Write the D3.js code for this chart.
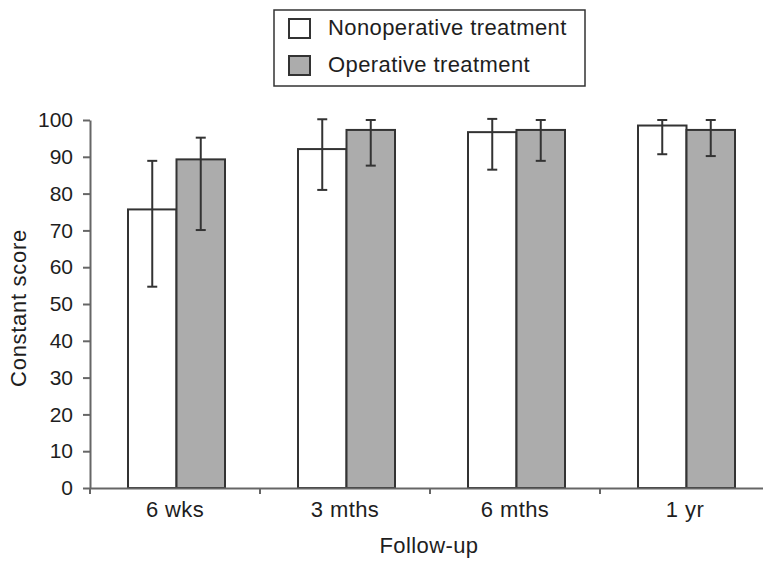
<!DOCTYPE html>
<html>
<head>
<meta charset="utf-8">
<script src="https://cdn.jsdelivr.net/npm/d3@7"></script>
<style>
  body { margin: 0; background: #fff; }
  svg { font-family: "Liberation Sans", Arial, sans-serif; }
</style>
</head>
<body>
<div id="chart"></div>
<script>
const categories = ["6 wks", "3 mths", "6 mths", "1 yr"];
const seriesNames = ["Nonoperative treatment", "Operative treatment"];
const nonopMean = [75.7, 92.1, 96.7, 98.5];
const nonopLow = [54.7, 81.0, 86.5, 90.7];
const nonopHigh = [88.9, 100.2, 100.3, 100];
const opMean = [89.3, 97.3, 97.3, 97.3];
const opLow = [70.1, 87.6, 88.9, 90.2];
const opHigh = [95.2, 100, 100, 100];
const yTicks = [0, 10, 20, 30, 40, 50, 60, 70, 80, 90, 100];

const width = 763, height = 561;
const fills = ["#ffffff", "#acacac"];
const textColor = "#1e1e1e";

const svg = d3.select("#chart").append("svg")
  .attr("width", width)
  .attr("height", height);

const x0 = d3.scaleBand().domain(categories).range([90, 770]).padding(0);
const x1 = d3.scaleBand().domain(seriesNames).range([38, 135]).padding(0);
const y = d3.scaleLinear().domain([0, 100]).range([488, 120]);

const rows = categories.map((c, i) => ({
  cat: c,
  vals: [
    { s: seriesNames[0], v: nonopMean[i], lo: nonopLow[i], hi: nonopHigh[i] },
    { s: seriesNames[1], v: opMean[i], lo: opLow[i], hi: opHigh[i] }
  ]
}));

// bars
const group = svg.selectAll(".grp")
  .data(rows)
  .enter().append("g")
  .attr("class", "grp")
  .attr("transform", d => `translate(${x0(d.cat)},0)`);

group.selectAll("rect")
  .data(d => d.vals)
  .enter().append("rect")
  .attr("x", d => x1(d.s))
  .attr("y", d => y(d.v))
  .attr("width", x1.bandwidth())
  .attr("height", d => y(0) - y(d.v))
  .attr("fill", (d, i) => fills[i])
  .attr("stroke", "#333")
  .attr("stroke-width", 2);

// error bars
const err = group.selectAll(".err")
  .data(d => d.vals)
  .enter().append("g")
  .attr("class", "err")
  .attr("stroke", "#333")
  .attr("stroke-width", 2);

err.append("line")
  .attr("x1", d => x1(d.s) + x1.bandwidth() / 2)
  .attr("x2", d => x1(d.s) + x1.bandwidth() / 2)
  .attr("y1", d => y(d.lo))
  .attr("y2", d => y(d.hi));
err.append("line")
  .attr("x1", d => x1(d.s) + x1.bandwidth() / 2 - 5)
  .attr("x2", d => x1(d.s) + x1.bandwidth() / 2 + 5)
  .attr("y1", d => y(d.hi))
  .attr("y2", d => y(d.hi));
err.append("line")
  .attr("x1", d => x1(d.s) + x1.bandwidth() / 2 - 5)
  .attr("x2", d => x1(d.s) + x1.bandwidth() / 2 + 5)
  .attr("y1", d => y(d.lo))
  .attr("y2", d => y(d.lo));

// y axis
const yAxis = svg.append("g")
  .attr("transform", "translate(90,0)")
  .call(d3.axisLeft(y).tickValues(yTicks).tickSize(7).tickSizeOuter(0).tickPadding(10));
yAxis.selectAll("path, line").attr("stroke", "#666").attr("stroke-width", 2);
yAxis.selectAll("text").attr("font-size", 21).attr("fill", textColor)
  .attr("font-family", "Liberation Sans, Arial, sans-serif");

// x axis
const xAxis = svg.append("g")
  .attr("transform", `translate(0,${y(0)})`)
  .call(d3.axisBottom(x0).tickSize(0).tickPadding(13));
xAxis.select(".domain").attr("stroke", "#666").attr("stroke-width", 2);
xAxis.selectAll("text").attr("font-size", 22).attr("fill", textColor)
  .attr("letter-spacing", 0.4)
  .attr("font-family", "Liberation Sans, Arial, sans-serif");
xAxis.selectAll(".sep")
  .data(categories)
  .enter().append("line")
  .attr("class", "sep")
  .attr("x1", d => x0(d))
  .attr("x2", d => x0(d))
  .attr("y1", 0)
  .attr("y2", 6)
  .attr("stroke", "#666")
  .attr("stroke-width", 2);

// axis titles
svg.append("text")
  .attr("x", 429)
  .attr("y", 553)
  .attr("text-anchor", "middle")
  .attr("font-size", 22)
  .attr("letter-spacing", 0.4)
  .attr("fill", textColor)
  .text("Follow-up");

svg.append("text")
  .attr("transform", "translate(26,308) rotate(-90)")
  .attr("text-anchor", "middle")
  .attr("font-size", 22)
  .attr("letter-spacing", 0.7)
  .attr("fill", textColor)
  .text("Constant score");

// legend
const legend = svg.append("g");
legend.append("rect")
  .attr("x", 274).attr("y", 10)
  .attr("width", 311).attr("height", 76)
  .attr("fill", "#fff")
  .attr("stroke", "#333")
  .attr("stroke-width", 1.5);

const item = legend.selectAll(".item")
  .data(seriesNames)
  .enter().append("g")
  .attr("class", "item")
  .attr("transform", (d, i) => `translate(289,${19 + i * 37})`);
item.append("rect")
  .attr("width", 21).attr("height", 19)
  .attr("fill", (d, i) => fills[i])
  .attr("stroke", "#333")
  .attr("stroke-width", 2);
item.append("text")
  .attr("x", 39)
  .attr("y", 16)
  .attr("font-size", 22)
  .attr("letter-spacing", 0.4)
  .attr("fill", textColor)
  .text(d => d);
</script>
</body>
</html>
